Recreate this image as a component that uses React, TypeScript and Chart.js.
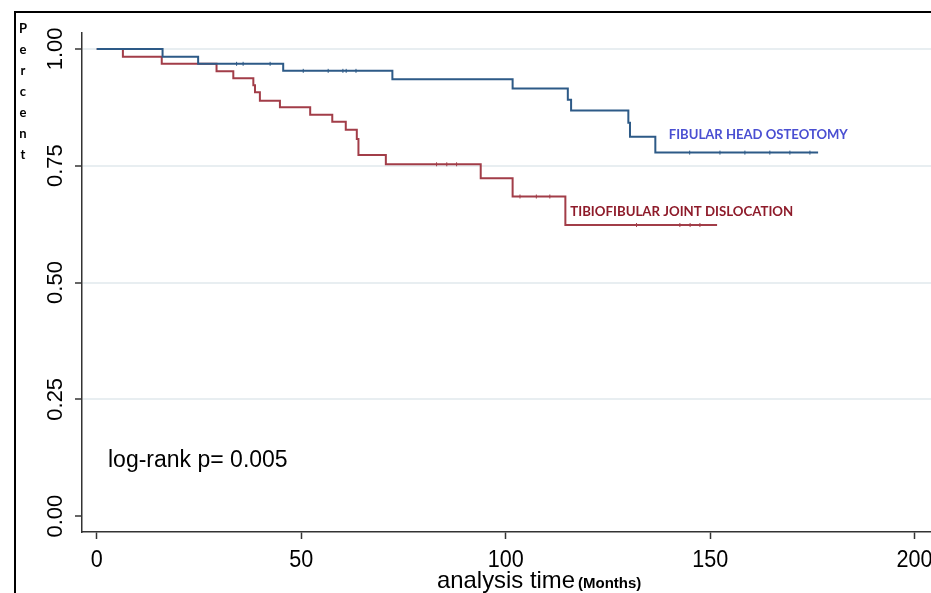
import React, { useEffect, useRef } from "react";
import { Chart, registerables } from "chart.js";

Chart.register(...registerables);

// Kaplan-Meier step data (time in months, survival proportion)
const FIBULAR_TIMES = [0, 16.1, 24.8, 45.6, 72.3, 101.7, 115.2, 116.0, 130.0, 130.4, 136.6, 176.4];
const FIBULAR_VALUES = [1.0, 0.983, 0.968, 0.953, 0.935, 0.915, 0.891, 0.868, 0.842, 0.812, 0.778, 0.778];
const TIBIO_TIMES = [0, 6.4, 15.9, 29.3, 33.4, 38.3, 38.7, 39.9, 44.8, 52.2, 57.6, 60.9, 63.6, 64.0, 70.7, 93.9, 101.7, 114.6, 151.7];
const TIBIO_VALUES = [1.0, 0.983, 0.968, 0.952, 0.937, 0.922, 0.907, 0.889, 0.875, 0.859, 0.844, 0.827, 0.807, 0.773, 0.753, 0.723, 0.684, 0.623, 0.623];

// censoring marks
const FIBULAR_CENSOR_T = [34.2, 35.8, 42.4, 50.5, 56.6, 60.2, 61.0, 63.4, 145.0, 152.4, 158.5, 164.6, 169.5, 174.4];
const FIBULAR_CENSOR_V = [0.968, 0.968, 0.968, 0.953, 0.953, 0.953, 0.953, 0.953, 0.778, 0.778, 0.778, 0.778, 0.778, 0.778];
const TIBIO_CENSOR_T = [83.1, 85.6, 88.0, 103.5, 107.5, 110.8, 132.0, 142.6, 145.1, 147.5];
const TIBIO_CENSOR_V = [0.753, 0.753, 0.753, 0.684, 0.684, 0.684, 0.623, 0.623, 0.623, 0.623];

const X_TICKS = [0, 50, 100, 150, 200];
const Y_TICKS = [0, 0.25, 0.5, 0.75, 1.0];
const Y_TICK_LABELS = ["0.00", "0.25", "0.50", "0.75", "1.00"];

const LABEL_FIBULAR = "FIBULAR HEAD OSTEOTOMY";
const LABEL_TIBIO = "TIBIOFIBULAR JOINT DISLOCATION";
const LOGRANK = "log-rank p= 0.005";
const X_TITLE = "analysis time";
const X_TITLE_UNIT = "(Months)";
const Y_TITLE = "Percent";

const BLUE = "#2d5a87";
const RED = "#a23d48";

const zip = (t: number[], v: number[]) => t.map((x, i) => ({ x, y: v[i] }));

const textPlugin = {
  id: "textPlugin",
  afterDraw(chart: any) {
    const ctx = chart.ctx;
    const xs = chart.scales.x;
    const ys = chart.scales.y;
    ctx.save();
    ctx.fillStyle = "#000";

    // y tick labels (rotated)
    ctx.font = "22px 'Liberation Sans', Arial, sans-serif";
    ctx.textAlign = "center";
    ctx.textBaseline = "middle";
    Y_TICKS.forEach((v, i) => {
      const y = ys.getPixelForValue(v);
      ctx.save();
      ctx.translate(56, y);
      ctx.rotate(-Math.PI / 2);
      ctx.fillText(Y_TICK_LABELS[i], 0, 0);
      ctx.restore();
    });

    // x tick labels
    ctx.font = "24px 'Liberation Sans', Arial, sans-serif";
    ctx.textAlign = "center";
    ctx.textBaseline = "alphabetic";
    X_TICKS.forEach((v) => {
      const x = xs.getPixelForValue(v);
      const s = String(v);
      ctx.fillText(s, x, 567, s.length * 12);
    });

    // x title
    ctx.textAlign = "left";
    ctx.font = "24px 'Liberation Sans', Arial, sans-serif";
    ctx.fillText(X_TITLE, 437, 588, 138);
    ctx.font = "bold 15px 'Liberation Sans', Arial, sans-serif";
    ctx.fillText(X_TITLE_UNIT, 578, 588, 75);

    // y title (stacked letters)
    ctx.font = "bold 13px Lato, 'Open Sans', sans-serif";
    ctx.textAlign = "center";
    ctx.textBaseline = "middle";
    Y_TITLE.split("").forEach((ch, i) => {
      ctx.fillText(ch, 23, 29 + i * 21);
    });

    // log-rank text
    ctx.font = "23px 'Liberation Sans', Arial, sans-serif";
    ctx.textAlign = "left";
    ctx.textBaseline = "alphabetic";
    ctx.fillText(LOGRANK, 108, 467, 186);

    // series labels
    ctx.font = "bold 14px Lato, 'Open Sans', sans-serif";
    ctx.textBaseline = "middle";
    ctx.fillStyle = "#4a4fd2";
    ctx.fillText(LABEL_FIBULAR, xs.getPixelForValue(139.9), ys.getPixelForValue(0.817), 179);
    ctx.fillStyle = "#8e1b2a";
    ctx.fillText(LABEL_TIBIO, xs.getPixelForValue(115.8), ys.getPixelForValue(0.651), 223);
    ctx.restore();
  },
};

export default function App() {
  const ref = useRef<HTMLCanvasElement | null>(null);
  useEffect(() => {
    if (!ref.current) return;
    const chart = new Chart(ref.current, {
      type: "scatter",
      data: {
        datasets: [
          {
            data: zip(FIBULAR_TIMES, FIBULAR_VALUES),
            showLine: true,
            stepped: "before",
            borderColor: BLUE,
            borderWidth: 2,
            pointRadius: 0,
            fill: false,
          },
          {
            data: zip(TIBIO_TIMES, TIBIO_VALUES),
            showLine: true,
            stepped: "before",
            borderColor: RED,
            borderWidth: 2,
            pointRadius: 0,
            fill: false,
          },
          {
            data: zip(FIBULAR_CENSOR_T, FIBULAR_CENSOR_V),
            showLine: false,
            pointStyle: "line",
            rotation: 90,
            pointRadius: 2,
            borderColor: BLUE,
            borderWidth: 1,
          },
          {
            data: zip(TIBIO_CENSOR_T, TIBIO_CENSOR_V),
            showLine: false,
            pointStyle: "line",
            rotation: 90,
            pointRadius: 2,
            borderColor: RED,
            borderWidth: 1,
          },
        ],
      } as any,
      options: {
        animation: false,
        responsive: false,
        devicePixelRatio: 1,
        layout: { padding: { top: 33, right: 0, left: 0, bottom: 0 } },
        plugins: { legend: { display: false }, tooltip: { enabled: false } },
        scales: {
          x: {
            type: "linear",
            min: -3.6,
            max: 208.9,
            afterBuildTicks: (s: any) => {
              s.ticks = X_TICKS.map((v) => ({ value: v }));
            },
            afterFit: (s: any) => {
              s.height = 61;
            },
            ticks: { display: false },
            grid: {
              drawOnChartArea: false,
              drawTicks: true,
              tickLength: 7,
              tickColor: "#333",
              tickWidth: 1.5,
            },
            border: { display: true, color: "#333", width: 1.5 },
          },
          y: {
            type: "linear",
            min: -0.034,
            max: 1.034,
            afterBuildTicks: (s: any) => {
              s.ticks = Y_TICKS.map((v) => ({ value: v }));
            },
            afterFit: (s: any) => {
              s.width = 82;
            },
            ticks: { display: false },
            grid: {
              drawOnChartArea: true,
              color: (c: any) => (c.tick && c.tick.value === 0 ? "rgba(0,0,0,0)" : "#e8eef1"),
              lineWidth: 2,
              drawTicks: true,
              tickLength: 7,
              tickColor: "#333",
              tickWidth: 1.5,
            },
            border: { display: true, color: "#333", width: 1.5 },
          },
        },
      } as any,
      plugins: [textPlugin],
    });
    return () => chart.destroy();
  }, []);

  return (
    <div style={{ position: "fixed", left: 0, top: 0, width: 931, height: 593, overflow: "hidden", background: "#fff" }}>
      <canvas ref={ref} width={956} height={593} style={{ position: "absolute", left: 0, top: 0, width: 956, height: 593, display: "block" }} />
      <div style={{ position: "absolute", left: 14, top: 11, width: 2000, height: 2000, borderLeft: "2px solid #000", borderTop: "2px solid #000" }} />
    </div>
  );
}
